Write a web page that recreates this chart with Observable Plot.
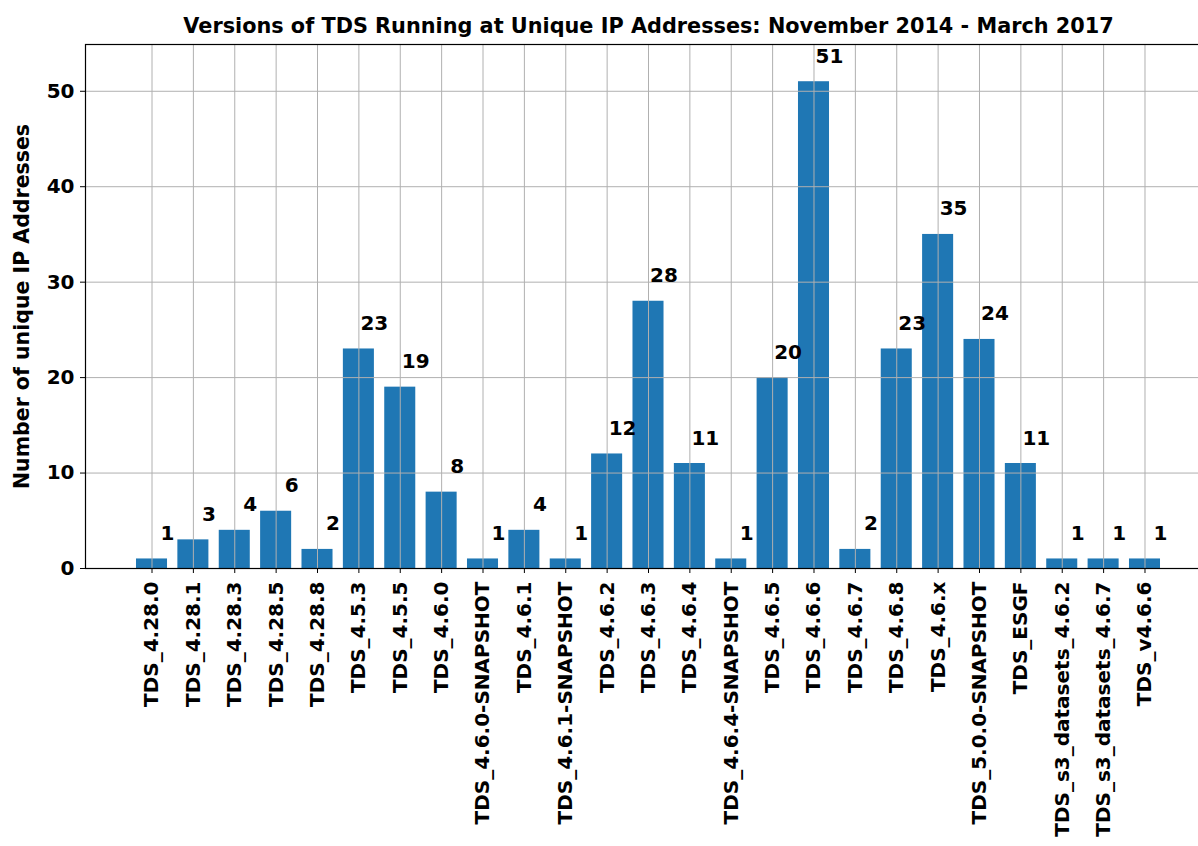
<!DOCTYPE html>
<html>
<head>
<meta charset="utf-8">
<script src="https://cdn.jsdelivr.net/npm/d3@7"></script>
<script src="https://cdn.jsdelivr.net/npm/@observablehq/plot@0.6"></script>
<style>
  html, body { margin: 0; padding: 0; background: #fff; }
  #chart { width: 1198px; height: 846px; overflow: hidden; }
  #chart svg { max-width: none !important; }
</style>
</head>
<body>
<div id="chart"></div>
<script>
const chartTitle = "Versions of TDS Running at Unique IP Addresses: November 2014 - March 2017";
const yLabel = "Number of unique IP Addresses";
const versions = [
  "TDS_4.28.0", "TDS_4.28.1", "TDS_4.28.3", "TDS_4.28.5", "TDS_4.28.8",
  "TDS_4.5.3", "TDS_4.5.5", "TDS_4.6.0", "TDS_4.6.0-SNAPSHOT", "TDS_4.6.1",
  "TDS_4.6.1-SNAPSHOT", "TDS_4.6.2", "TDS_4.6.3", "TDS_4.6.4", "TDS_4.6.4-SNAPSHOT",
  "TDS_4.6.5", "TDS_4.6.6", "TDS_4.6.7", "TDS_4.6.8", "TDS_4.6.x",
  "TDS_5.0.0-SNAPSHOT", "TDS_ESGF", "TDS_s3_datasets_4.6.2", "TDS_s3_datasets_4.6.7", "TDS_v4.6.6"
];
const counts = [1, 3, 4, 6, 2, 23, 19, 8, 1, 4, 1, 12, 28, 11, 1, 20, 51, 2, 23, 35, 24, 11, 1, 1, 1];
const yTicks = [0, 10, 20, 30, 40, 50];
const yMax = 54.9;

const data = versions.map((v, i) => ({version: v, count: counts[i]}));
const barColor = "#1f77b4";
const gridColor = "#b0b0b0";

const chart = Plot.plot({
  width: 1260,
  height: 846,
  marginTop: 44,
  marginBottom: 278,
  marginLeft: 85,
  marginRight: 49,
  style: {fontFamily: "DejaVu Sans", fontWeight: "bold", fontSize: "20px", color: "black", background: "white", overflow: "visible"},
  x: {domain: versions, paddingInner: 0.25, paddingOuter: 1.2325, round: false},
  y: {domain: [0, yMax]},
  marks: [
    Plot.barY(data, {x: "version", y: "count", fill: barColor}),
    Plot.gridX(versions, {stroke: gridColor, strokeOpacity: 1, strokeWidth: 1}),
    Plot.gridY(yTicks.slice(1), {stroke: gridColor, strokeOpacity: 1, strokeWidth: 1}),
    Plot.frame({stroke: "black", strokeWidth: 1.2}),
    Plot.axisY({ticks: yTicks, tickSize: 5, tickPadding: 6, label: null, fontSize: 20, fontWeight: "bold"}),
    Plot.axisX({tickSize: 5, tickPadding: 8, tickRotate: -90, label: null, fontSize: 20, fontWeight: "bold"}),
    Plot.text(data, {x: "version", y: "count", text: d => String(d.count), dx: 15.5, dy: -19, lineAnchor: "bottom", fontSize: 20, fontWeight: "bold", fill: "black"}),
    Plot.text([chartTitle], {text: d => d, frameAnchor: "top", textAnchor: "middle", dy: -18, lineAnchor: "middle", fontSize: 20.8, fontWeight: "bold", fill: "black"}),
    Plot.text([yLabel], {text: d => d, frameAnchor: "left", textAnchor: "middle", dx: -63, rotate: -90, lineAnchor: "middle", fontSize: 20.5, fontWeight: "bold", fill: "black"})
  ]
});
document.getElementById("chart").appendChild(chart);
</script>
</body>
</html>
